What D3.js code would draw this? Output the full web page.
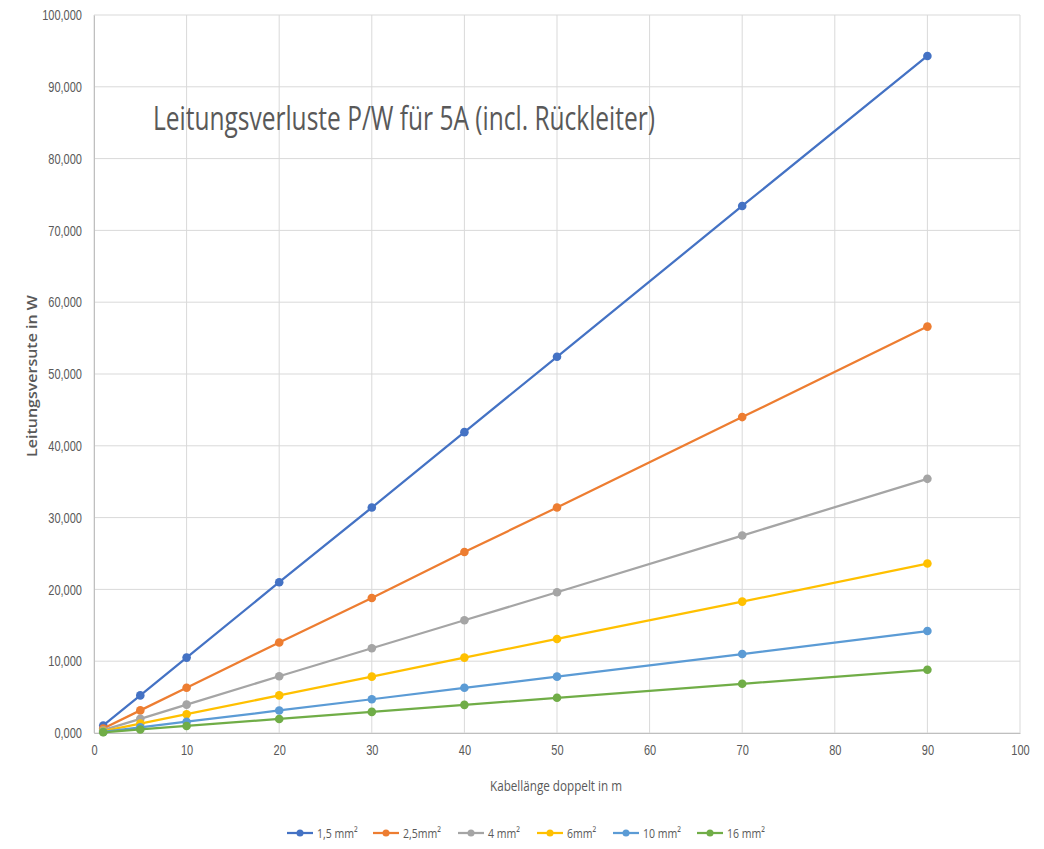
<!DOCTYPE html>
<html><head><meta charset="utf-8">
<script src="https://cdn.jsdelivr.net/npm/d3@7"></script>
<style>
body{margin:0;background:#fff;}
svg{display:block;font-family:"Open Sans",sans-serif;}
</style></head>
<body>
<svg id="chart" width="1044" height="849"></svg>
<script>
const xValues = [1, 5, 10, 20, 30, 40, 50, 70, 90];
const seriesNames = ["1,5 mm²", "2,5mm²", "4 mm²", "6mm²", "10 mm²", "16 mm²"];
const s15 = [1.05, 5.24, 10.5, 21.0, 31.4, 41.9, 52.4, 73.4, 94.3];
const s25 = [0.63, 3.15, 6.3, 12.6, 18.8, 25.2, 31.4, 44.0, 56.6];
const s4  = [0.39, 1.97, 3.95, 7.9, 11.8, 15.7, 19.6, 27.5, 35.4];
const s6  = [0.26, 1.31, 2.62, 5.24, 7.85, 10.5, 13.1, 18.3, 23.6];
const s10 = [0.16, 0.79, 1.57, 3.14, 4.7, 6.3, 7.85, 11.0, 14.2];
const s16 = [0.10, 0.49, 0.98, 1.96, 2.94, 3.92, 4.9, 6.85, 8.8];
const seriesValues = [s15, s25, s4, s6, s10, s16];
const colors = ["#4472C4", "#ED7D31", "#A5A5A5", "#FFC000", "#5B9BD5", "#70AD47"];
const xTicks = [0,10,20,30,40,50,60,70,80,90,100];
const yTicks = [0,10,20,30,40,50,60,70,80,90,100];
const title = "Leitungsverluste P/W für 5A (incl. Rückleiter)";
const xTitle = "Kabellänge doppelt in m";
const yTitle = "Leitungsversute in W";

const svg = d3.select("#chart");
const L = 94, R = 1020, T = 15, B = 733;
const x = d3.scaleLinear().domain([0,100]).range([L,R]);
const y = d3.scaleLinear().domain([0,100]).range([B,T]);
const yFmt = d => d3.format(".3f")(d).replace(".", ",");

function condense(sel, f) {
  sel.each(function() {
    const w = this.getComputedTextLength();
    d3.select(this).attr("textLength", w * f).attr("lengthAdjust", "spacingAndGlyphs");
  });
}

// gridlines
const g = svg.append("g");
g.selectAll(".hg").data(yTicks).join("line")
  .attr("x1", L).attr("x2", R).attr("y1", d=>y(d)).attr("y2", d=>y(d))
  .attr("stroke", "#d9d9d9").attr("stroke-width", 1);
g.selectAll(".vg").data(xTicks).join("line")
  .attr("y1", T).attr("y2", B).attr("x1", d=>x(d)).attr("x2", d=>x(d))
  .attr("stroke", "#d9d9d9").attr("stroke-width", 1);

// axes
const yAxis = svg.append("g").attr("transform", `translate(${L},0)`)
  .call(d3.axisLeft(y).tickValues(yTicks).tickFormat(yFmt).tickSize(0).tickPadding(12));
yAxis.select(".domain").attr("stroke", "#bfbfbf");
yAxis.selectAll("text").attr("fill", "#595959").style("font-size", "14.5px").call(condense, 0.76);

const xAxis = svg.append("g").attr("transform", `translate(0,${B})`)
  .call(d3.axisBottom(x).tickValues(xTicks).tickFormat(d3.format("d")).tickSize(0).tickPadding(12));
xAxis.select(".domain").attr("stroke", "#bfbfbf");
xAxis.selectAll("text").attr("fill", "#595959").style("font-size", "14.5px").call(condense, 0.76);

// series
const line = d3.line().x((d,i)=>x(xValues[i])).y(d=>y(d));
seriesValues.forEach((vals, si) => {
  const sg = svg.append("g");
  sg.append("path").datum(vals).attr("d", line).attr("fill","none")
    .attr("stroke", colors[si]).attr("stroke-width", 2.25).attr("stroke-linejoin","round");
  sg.selectAll("circle").data(vals).join("circle")
    .attr("cx", (d,i)=>x(xValues[i])).attr("cy", d=>y(d)).attr("r", 4.3)
    .attr("fill", colors[si]);
});

// title
svg.append("text").attr("x", 153).attr("y", 130).text(title)
  .attr("fill", "#595959").style("font-size", "32px")
  .attr("textLength", 502).attr("lengthAdjust", "spacingAndGlyphs");

// axis titles
svg.append("text").attr("x", 556).attr("y", 791).attr("text-anchor","middle")
  .text(xTitle).attr("fill","#595959").style("font-size","14.5px")
  .attr("textLength", 132).attr("lengthAdjust", "spacingAndGlyphs");
svg.append("text").attr("transform", "translate(37,376) rotate(-90)").attr("text-anchor","middle")
  .text(yTitle).attr("fill","#595959").style("font-size","13.5px").style("font-weight","600")
  .attr("textLength", 162).attr("lengthAdjust", "spacingAndGlyphs");

// legend
const legX = [287, 373, 458, 537, 613, 697];
const leg = svg.append("g");
seriesNames.forEach((n, i) => {
  const lx = legX[i], ly = 833;
  leg.append("line").attr("x1", lx).attr("x2", lx+26).attr("y1", ly).attr("y2", ly)
    .attr("stroke", colors[i]).attr("stroke-width", 2.25);
  leg.append("circle").attr("cx", lx+13).attr("cy", ly).attr("r", 3.5).attr("fill", colors[i]);
  leg.append("text").attr("x", lx+30).attr("y", ly+5).text(n)
    .attr("fill","#595959").style("font-size","13.5px").call(condense, 0.78);
});
</script>
</body></html>
